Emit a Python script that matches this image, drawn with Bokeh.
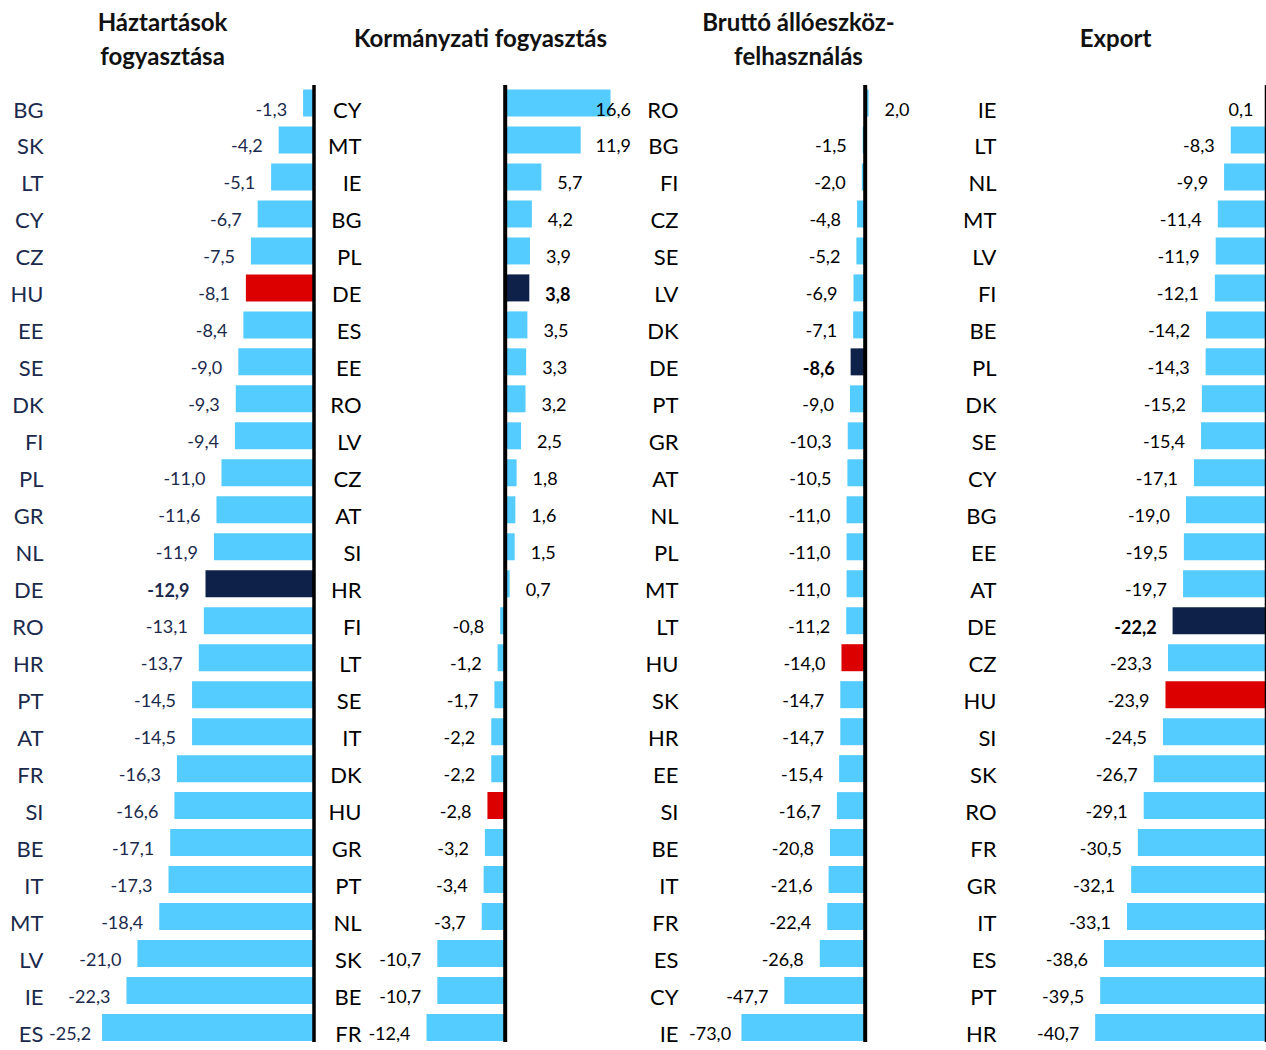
from bokeh.plotting import figure
from bokeh.models import Range1d, ColumnDataSource
from bokeh.layouts import row
from bokeh.embed import file_html
from bokeh.resources import INLINE
from bokeh.core.properties import value

# ---------------- data ----------------
hh_title = ["Háztartások", "fogyasztása"]
hh_countries = ["BG", "SK", "LT", "CY", "CZ", "HU", "EE", "SE", "DK", "FI", "PL", "GR", "NL",
                "DE", "RO", "HR", "PT", "AT", "FR", "SI", "BE", "IT", "MT", "LV", "IE", "ES"]
hh_values = [-1.3, -4.2, -5.1, -6.7, -7.5, -8.1, -8.4, -9.0, -9.3, -9.4, -11.0, -11.6, -11.9,
             -12.9, -13.1, -13.7, -14.5, -14.5, -16.3, -16.6, -17.1, -17.3, -18.4, -21.0, -22.3, -25.2]

gov_title = ["Kormányzati fogyasztás"]
gov_countries = ["CY", "MT", "IE", "BG", "PL", "DE", "ES", "EE", "RO", "LV", "CZ", "AT", "SI",
                 "HR", "FI", "LT", "SE", "IT", "DK", "HU", "GR", "PT", "NL", "SK", "BE", "FR"]
gov_values = [16.6, 11.9, 5.7, 4.2, 3.9, 3.8, 3.5, 3.3, 3.2, 2.5, 1.8, 1.6, 1.5,
              0.7, -0.8, -1.2, -1.7, -2.2, -2.2, -2.8, -3.2, -3.4, -3.7, -10.7, -10.7, -12.4]

inv_title = ["Bruttó állóeszköz-", "felhasználás"]
inv_countries = ["RO", "BG", "FI", "CZ", "SE", "LV", "DK", "DE", "PT", "GR", "AT", "NL", "PL",
                 "MT", "LT", "HU", "SK", "HR", "EE", "SI", "BE", "IT", "FR", "ES", "CY", "IE"]
inv_values = [2.0, -1.5, -2.0, -4.8, -5.2, -6.9, -7.1, -8.6, -9.0, -10.3, -10.5, -11.0, -11.0,
              -11.0, -11.2, -14.0, -14.7, -14.7, -15.4, -16.7, -20.8, -21.6, -22.4, -26.8, -47.7, -73.0]

exp_title = ["Export"]
exp_countries = ["IE", "LT", "NL", "MT", "LV", "FI", "BE", "PL", "DK", "SE", "CY", "BG", "EE",
                 "AT", "DE", "CZ", "HU", "SI", "SK", "RO", "FR", "GR", "IT", "ES", "PT", "HR"]
exp_values = [0.1, -8.3, -9.9, -11.4, -11.9, -12.1, -14.2, -14.3, -15.2, -15.4, -17.1, -19.0, -19.5,
              -19.7, -22.2, -23.3, -23.9, -24.5, -26.7, -29.1, -30.5, -32.1, -33.1, -38.6, -39.5, -40.7]

highlight = {"DE": "#0E2148", "HU": "#DC0000"}
BAR_COLOR = "#55CCFF"
NAVY_TEXT = "#1B2A4C"
FONT = "Lato"

# ---------------- layout (reference pixel geometry) ----------------
REF_W, REF_H = 1266, 1050
TOP_PX = 8                      # page margin at the top
PAGE_W, PAGE_H = 1266, 1050 - TOP_PX
ROW0, ROW_STEP, BAR_PX = 110.5, 36.98, 27.0
GAP = 16.0
BASE_PX = 6.0


def fmt(v):
    return ("%.1f" % v).replace(".", ",")


def text_w(t):
    w = 0.0
    for ch in t:
        if ch.isdigit():
            w += 10.5
        elif ch == ",":
            w += 5.0
        elif ch == "-":
            w += 7.0
        else:
            w += 8.0
    return w


def ypx(py):
    return (py - ROW0) / ROW_STEP


def make_panel(titles, title_cx, countries, values, L, R, z, s, zline_w,
               cat_right, lab_min, lab_max, txt_color, width):
    xr = Range1d((L - z) / s, (R - z) / s)
    yr = Range1d(ypx(REF_H), ypx(TOP_PX))
    p = figure(width=width, height=PAGE_H, x_range=xr, y_range=yr,
               output_backend="svg", toolbar_location=None,
               x_axis_location=None, y_axis_location=None,
               min_border=0, outline_line_color=None)
    p.grid.visible = False

    n = len(countries)
    ys = list(range(n))
    colors = [highlight.get(c, BAR_COLOR) for c in countries]
    src = ColumnDataSource(dict(y=ys, v=values, color=colors))
    p.hbar(y="y", left=0, right="v", height=BAR_PX / ROW_STEP,
           fill_color="color", line_color=None, source=src)

    # zero line
    p.segment(x0=[0], y0=[ypx(92.5)], x1=[0], y1=[ypx(REF_H + 20)],
              line_color="black", line_width=zline_w)

    # value labels
    lx, la, ls, lt = [], [], [], []
    for c, v in zip(countries, values):
        t = fmt(v)
        w = text_w(t)
        end_px = z + v * s
        if v < 0:
            right = end_px - GAP
            if lab_min is not None and right - w < lab_min:
                lx.append((lab_min - z) / s); la.append("left")
            else:
                lx.append((right - z) / s); la.append("right")
        else:
            left = end_px + GAP
            if lab_max is not None and left + w > lab_max:
                lx.append((lab_max - z) / s); la.append("right")
            else:
                lx.append((left - z) / s); la.append("left")
        ls.append("bold" if c == "DE" else "normal")
        lt.append(t)
    base = BASE_PX / ROW_STEP
    lsrc = ColumnDataSource(dict(x=lx, y=[y + base for y in ys], text=lt,
                                 align=la, style=ls))
    p.text(x="x", y="y", text="text", source=lsrc, text_align="align",
           text_baseline="alphabetic", text_font=value(FONT),
           text_font_size="18px", text_font_style="style", text_color=txt_color)

    # category labels
    csrc = ColumnDataSource(dict(x=[(cat_right - z) / s] * n,
                                 y=[y + base for y in ys], text=countries))
    p.text(x="x", y="y", text="text", source=csrc, text_align="right",
           text_baseline="alphabetic", text_font=value(FONT),
           text_font_size="22px", text_color=txt_color)

    # titles
    if len(titles) == 2:
        tys = [ypx(29), ypx(63)]
    else:
        tys = [ypx(45)]
    p.text(x=[(title_cx - z) / s] * len(titles), y=tys, text=titles,
           text_align="center", text_baseline="alphabetic",
           text_font=value(FONT), text_font_size="24px",
           text_font_style="bold", text_color="#111111")
    return p


bounds = [0, 320, 640, 960, 1266]
widths = [bounds[i + 1] - bounds[i] for i in range(4)]

p1 = make_panel(hh_title, 162, hh_countries, hh_values, 0, 320, 313.5, 8.41, 3.5,
                43, 48.5, None, NAVY_TEXT, widths[0])
p2 = make_panel(gov_title, 480, gov_countries, gov_values, 320, 640, 504.7, 6.345, 4,
                361, None, 630.5, "#000000", widths[1])
p3 = make_panel(inv_title, 798, inv_countries, inv_values, 640, 960, 864.7, 1.695, 4,
                678, 688.5, None, "#000000", widths[2])
p4 = make_panel(exp_title, 1115, exp_countries, exp_values, 960, 1266, 1265.0, 4.185, 1.5,
                996, None, 1253, "#000000", widths[3])

layout = row(p1, p2, p3, p4, spacing=0)
open("out.html", "w").write(file_html(layout, INLINE))
